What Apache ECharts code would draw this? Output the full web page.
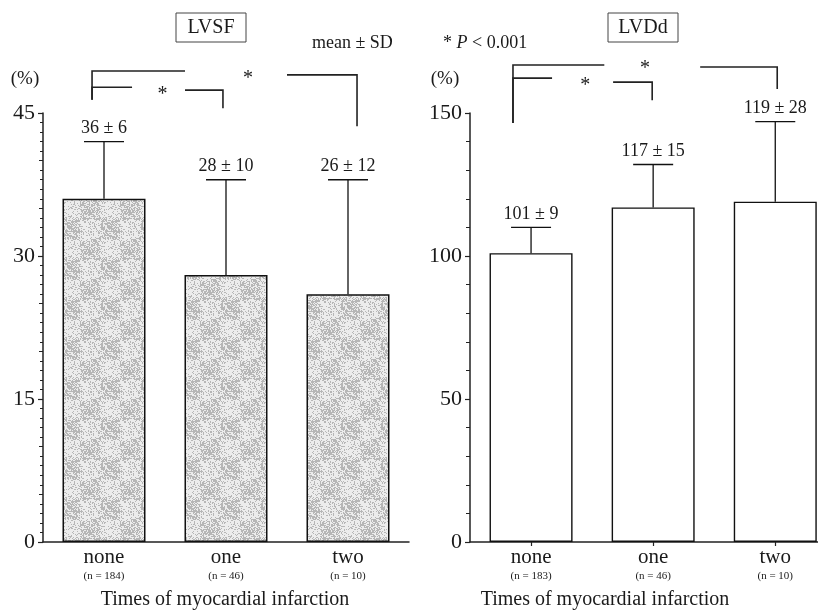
<!DOCTYPE html>
<html>
<head>
<meta charset="utf-8">
<script src="https://cdn.jsdelivr.net/npm/echarts@6/dist/echarts.min.js"></script>
<style>
  html, body { margin: 0; padding: 0; background: #fff; }
  #chart { width: 818px; height: 613px; }
</style>
</head>
<body>
<div id="chart"></div>
<script>
// Group labels and sample sizes
const categories = ['none', 'one', 'two'];
const lvsfN = [184, 46, 10];
const lvddN = [183, 46, 10];

// LVSF (%) mean and SD
const lvsfMean = [36, 28, 26];
const lvsfSD = [6, 10, 12];

// LVDd (%) mean and SD
const lvddMean = [101, 117, 119];
const lvddSD = [9, 15, 28];

// Axis tick labels
const lvsfTicks = [0, 15, 30, 45];
const lvddTicks = [0, 50, 100, 150];

const FONT = '"Liberation Serif", "Times New Roman", serif';
const INK = '#1a1a1a';

// Stippled grey fill for the LVSF bars
function makeStipple() {
  const c = document.createElement('canvas');
  c.width = 40; c.height = 40;
  const ctx = c.getContext('2d');
  const img = ctx.createImageData(40, 40);
  let s = 12345;
  const rnd = () => { s = (s * 1103515245 + 12345) & 0x7fffffff; return s / 0x7fffffff; };
  for (let y = 0; y < 40; y++) {
    for (let x = 0; x < 40; x++) {
      const block = (Math.floor(x / 20) + Math.floor(y / 20)) % 2;
      const density = block ? 0.25 : 0.6;
      const v = rnd() < density ? 182 : 236;
      const i = (y * 40 + x) * 4;
      img.data[i] = v; img.data[i + 1] = v; img.data[i + 2] = v; img.data[i + 3] = 255;
    }
  }
  ctx.putImageData(img, 0, 0);
  return c;
}

const richCat = {
  a: { fontFamily: FONT, fontSize: 21, color: INK, lineHeight: 22 },
  b: { fontFamily: FONT, fontSize: 11, color: INK, lineHeight: 16 }
};

function yAxisCfg(grid, max, interval, minorSplit, tickLabels) {
  return {
    type: 'value', gridIndex: grid, min: 0, max: max, interval: interval,
    axisLine: { show: true, onZero: false, lineStyle: { color: '#222', width: 1.5 } },
    axisTick: { show: true, length: 5, lineStyle: { color: '#222', width: 1.2 } },
    minorTick: { show: true, splitNumber: minorSplit, length: 4, lineStyle: { color: '#222', width: 1 } },
    splitLine: { show: false },
    axisLabel: {
      margin: 8, fontFamily: FONT, fontSize: 22, color: INK,
      formatter: v => (tickLabels.indexOf(v) >= 0 ? String(v) : '')
    }
  };
}

function errorSeries(xi, yi, mean, sd) {
  return {
    type: 'custom', xAxisIndex: xi, yAxisIndex: yi, z: 5,
    data: mean.map((m, i) => [i, m, m + sd[i], sd[i]]),
    renderItem(params, api) {
      const x = api.value(0);
      const base = api.coord([x, api.value(1)]);
      const top = api.coord([x, api.value(2)]);
      const half = 20;
      const st = { stroke: '#111', lineWidth: 1.3 };
      return {
        type: 'group',
        children: [
          { type: 'line', shape: { x1: base[0], y1: base[1], x2: top[0], y2: top[1] }, style: st },
          { type: 'line', shape: { x1: top[0] - half, y1: top[1], x2: top[0] + half, y2: top[1] }, style: st },
          {
            type: 'text',
            style: {
              text: api.value(1) + ' ± ' + api.value(3),
              x: top[0], y: top[1] - 4,
              textAlign: 'center', textVerticalAlign: 'bottom',
              font: '18px ' + FONT, fill: INK
            }
          }
        ]
      };
    }
  };
}

const chart = echarts.init(document.getElementById('chart'), null, { renderer: 'canvas' });

const option = {
  animation: false,
  backgroundColor: '#fff',
  grid: [
    { left: 43, top: 113, width: 366, height: 429 },
    { left: 470, top: 113, right: 0, height: 429 }
  ],
  xAxis: [
    {
      type: 'category', gridIndex: 0, data: categories,
      axisLine: { lineStyle: { color: '#222', width: 1.5 } },
      axisTick: { show: false },
      axisLabel: {
        margin: 4, rich: richCat,
        formatter: (value, idx) => '{a|' + value + '}\n{b|(n = ' + lvsfN[idx] + ')}'
      }
    },
    {
      // LVDd panel runs off the right edge, so its group axis is a numeric one
      type: 'value', gridIndex: 1, min: -0.5, max: 2.35,
      splitLine: { show: false },
      axisLine: { onZero: false, lineStyle: { color: '#222', width: 1.5 } },
      axisTick: { show: true, length: 4, customValues: [0, 1, 2], lineStyle: { color: '#222', width: 1.2 } },
      axisLabel: {
        margin: 4, rich: richCat, customValues: [0, 1, 2],
        formatter: v => '{a|' + categories[v] + '}\n{b|(n = ' + lvddN[v] + ')}'
      }
    }
  ],
  yAxis: [
    yAxisCfg(0, 45, 15, 3, lvsfTicks),
    {
      // fine 1 % ticks on the LVSF axis
      type: 'value', gridIndex: 0, min: 0, max: 45, interval: 1, position: 'left',
      axisLine: { show: false, onZero: false }, axisLabel: { show: false }, splitLine: { show: false },
      axisTick: { show: true, length: 3, lineStyle: { color: '#222', width: 1 } }
    },
    yAxisCfg(1, 150, 50, 5, lvddTicks)
  ],
  series: [
    {
      type: 'bar', xAxisIndex: 0, yAxisIndex: 0, data: lvsfMean, barWidth: 83,
      itemStyle: { color: { image: makeStipple(), repeat: 'repeat' }, borderColor: '#111', borderWidth: 1.5 }
    },
    errorSeries(0, 0, lvsfMean, lvsfSD),
    {
      type: 'bar', xAxisIndex: 1, yAxisIndex: 2, barWidth: 83,
      data: lvddMean.map((v, i) => [i, v]),
      itemStyle: { color: '#fff', borderColor: '#111', borderWidth: 1.4 }
    },
    errorSeries(1, 2, lvddMean, lvddSD)
  ]
};
chart.setOption(option);

// Significance brackets, positioned in group / value units of each panel
function panelMap(g, yAxisIndex, c0v, c1v) {
  const c0 = chart.convertToPixel({ xAxisIndex: g }, c0v);
  const c1 = chart.convertToPixel({ xAxisIndex: g }, c1v);
  const step = c1 - c0;
  return (k, v) => [c0 + k * step, chart.convertToPixel({ yAxisIndex: yAxisIndex }, v)];
}

function bracket(p, b) {
  const st = { stroke: '#222', lineWidth: 1.6, fill: null };
  const els = [];
  els.push({ type: 'polyline', shape: { points: [p(b.x0, b.drop0), p(b.x0, b.y0), p(b.g0, b.y0)] }, style: st });
  els.push({ type: 'polyline', shape: { points: [p(b.g1, b.y1), p(b.x1, b.y1), p(b.x1, b.drop1)] }, style: st });
  const sp = p(b.sx, b.sy);
  els.push({
    type: 'text',
    style: { text: '*', x: sp[0], y: sp[1], textAlign: 'center', textVerticalAlign: 'middle', font: '20px ' + FONT, fill: INK }
  });
  return els;
}

const pL = panelMap(0, 0, categories[0], categories[1]);
const pR = panelMap(1, 2, 0, 1);

const brackets = [
  ...bracket(pL, { x0: -0.098, y0: 49.4, drop0: 46.4, g0: 0.664, g1: 1.5, y1: 49.0, x1: 2.074, drop1: 43.6, sx: 1.18, sy: 48.6 }),
  ...bracket(pL, { x0: -0.098, y0: 47.7, drop0: 46.4, g0: 0.23, g1: 0.664, y1: 47.4, x1: 0.975, drop1: 45.5, sx: 0.48, sy: 46.9 }),
  ...bracket(pR, { x0: -0.148, y0: 166.8, drop0: 146.5, g0: 0.6, g1: 1.385, y1: 166.1, x1: 2.016, drop1: 158.4, sx: 0.934, sy: 165.5 }),
  ...bracket(pR, { x0: -0.148, y0: 162.2, drop0: 146.5, g0: 0.172, g1: 0.672, y1: 160.8, x1: 0.992, drop1: 154.5, sx: 0.443, sy: 159.7 })
];

function titleBox(cx, text) {
  return {
    type: 'group',
    children: [
      { type: 'rect', shape: { x: cx - 35, y: 13, width: 70, height: 29 }, style: { fill: '#fff', stroke: '#444', lineWidth: 1 } },
      { type: 'text', style: { text: text, x: cx, y: 28, textAlign: 'center', textVerticalAlign: 'middle', font: '20px ' + FONT, fill: INK } }
    ]
  };
}

chart.setOption({
  graphic: [
    titleBox(211, 'LVSF'),
    titleBox(643, 'LVDd'),
    { type: 'text', style: { text: 'mean ± SD', x: 312, y: 43, textVerticalAlign: 'middle', font: '18px ' + FONT, fill: INK } },
    {
      type: 'text',
      style: {
        text: '* {i|P} < 0.001', x: 443, y: 43, textVerticalAlign: 'middle', font: '18px ' + FONT, fill: INK,
        rich: { i: { fontStyle: 'italic', fontFamily: FONT, fontSize: 18, fill: INK } }
      }
    },
    { type: 'text', style: { text: '(%)', x: 25, y: 79, textAlign: 'center', textVerticalAlign: 'middle', font: '19px ' + FONT, fill: INK } },
    { type: 'text', style: { text: '(%)', x: 445, y: 79, textAlign: 'center', textVerticalAlign: 'middle', font: '19px ' + FONT, fill: INK } },
    { type: 'text', style: { text: 'Times of myocardial infarction', x: 225, y: 600, textAlign: 'center', textVerticalAlign: 'middle', font: '20px ' + FONT, fill: INK } },
    { type: 'text', style: { text: 'Times of myocardial infarction', x: 605, y: 600, textAlign: 'center', textVerticalAlign: 'middle', font: '20px ' + FONT, fill: INK } },
    ...brackets
  ]
});
</script>
</body>
</html>
